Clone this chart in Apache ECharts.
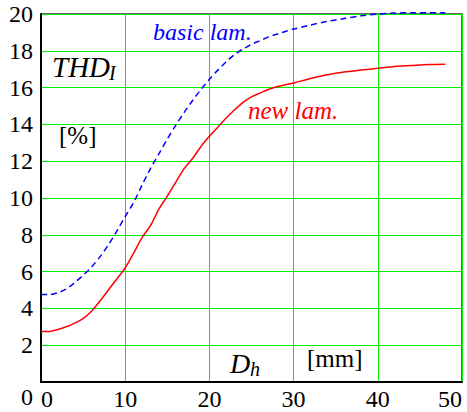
<!DOCTYPE html>
<html>
<head>
<meta charset="utf-8">
<script src="https://cdn.jsdelivr.net/npm/echarts@6/dist/echarts.min.js"></script>
<style>
  html, body { margin: 0; padding: 0; background: #fff; }
  #chart { width: 467px; height: 412px; }
</style>
</head>
<body>
<div id="chart"></div>
<script>
// Hole diameter D_h [mm]
const dh = [0, 1, 2, 3, 4, 5, 6, 7, 8, 9, 10, 11, 12, 13, 14, 15, 16, 17, 18, 19, 20,
  21, 22, 23, 24, 25, 26, 27, 28, 29, 30, 32, 34, 36, 38, 40, 42, 44, 46, 48];
// THD_I [%] for the basic lamination
const basicLam = [4.75, 4.75, 4.85, 5.05, 5.4, 5.8, 6.25, 6.8, 7.45, 8.2, 9.0,
  9.75, 10.7, 11.6, 12.4, 13.2, 13.95, 14.65, 15.3, 15.9, 16.45,
  16.95, 17.4, 17.8, 18.1, 18.35, 18.55, 18.75, 18.9, 19.05, 19.18,
  19.4, 19.6, 19.75, 19.9, 20.0, 20.05, 20.07, 20.07, 20.07];
// THD_I [%] for the new lamination
const newLam = [2.75, 2.75, 2.85, 3.0, 3.2, 3.45, 3.85, 4.4, 5.0, 5.6, 6.2,
  7.0, 7.85, 8.5, 9.4, 10.1, 10.85, 11.6, 12.15, 12.8, 13.35,
  13.85, 14.35, 14.8, 15.2, 15.5, 15.7, 15.9, 16.05, 16.15, 16.25,
  16.5, 16.7, 16.85, 16.95, 17.05, 17.15, 17.2, 17.25, 17.27];

const xTicks = [0, 10, 20, 30, 40, 50];
const yTicks = [0, 2, 4, 6, 8, 10, 12, 14, 16, 18, 20];

const pair = (xs, ys) => xs.map((x, i) => [x, ys[i]]);

const serif = 'Liberation Serif';
const gridGreen = '#00ee00';

const chart = echarts.init(document.getElementById('chart'), null, { renderer: 'svg' });

chart.setOption({
  animation: false,
  backgroundColor: '#fff',
  grid: {
    left: 41, right: 5, top: 14, bottom: 30,
    show: true, borderColor: '#333', borderWidth: 1.5
  },
  xAxis: {
    type: 'value',
    min: xTicks[0], max: xTicks[xTicks.length - 1], interval: 10,
    axisLine: { show: true, lineStyle: { color: '#000', width: 2 } },
    axisTick: { show: false },
    splitLine: { show: true, lineStyle: { color: gridGreen, width: 1 } },
    axisLabel: {
      margin: 5, fontFamily: serif, fontSize: 24, color: '#000',
      alignMinLabel: 'left', alignMaxLabel: 'right'
    }
  },
  yAxis: {
    type: 'value',
    min: yTicks[0], max: yTicks[yTicks.length - 1], interval: 2,
    axisLine: { show: true, lineStyle: { color: '#000', width: 2 } },
    axisTick: { show: false },
    splitLine: { show: true, lineStyle: { color: gridGreen, width: 1 } },
    axisLabel: {
      margin: 8, fontFamily: serif, fontSize: 24, color: '#000',
      padding: [3, 0, 0, 0],
      verticalAlignMinLabel: 'top'
    }
  },
  series: [
    {
      name: 'basic lam.', type: 'line', data: pair(dh, basicLam),
      showSymbol: false, smooth: 0.3, clip: false,
      lineStyle: { color: '#0000ff', width: 1.5, type: [6, 4] }
    },
    {
      name: 'new lam.', type: 'line', data: pair(dh, newLam),
      showSymbol: false, smooth: 0.3, clip: false,
      lineStyle: { color: '#ff0000', width: 1.5 }
    }
  ],
  graphic: [
    { type: 'text', left: 153, top: 20, z: 10,
      style: { text: 'basic lam.', fill: '#0000ff', fontFamily: serif, fontStyle: 'italic', fontSize: 24 } },
    { type: 'text', left: 248, top: 98, z: 10,
      style: { text: 'new lam.', fill: '#ff0000', fontFamily: serif, fontStyle: 'italic', fontSize: 25 } },
    { type: 'text', left: 52, top: 52, z: 10,
      style: { text: 'THD', fill: '#000', fontFamily: serif, fontStyle: 'italic', fontSize: 29 } },
    { type: 'text', left: 109, top: 63, z: 10,
      style: { text: 'I', fill: '#000', fontFamily: serif, fontStyle: 'italic', fontSize: 20 } },
    { type: 'text', left: 59, top: 123, z: 10,
      style: { text: '[%]', fill: '#000', fontFamily: serif, fontSize: 25 } },
    { type: 'text', left: 230, top: 349, z: 10,
      style: { text: 'D', fill: '#000', fontFamily: serif, fontStyle: 'italic', fontSize: 28 } },
    { type: 'text', left: 250, top: 359, z: 10,
      style: { text: 'h', fill: '#000', fontFamily: serif, fontStyle: 'italic', fontSize: 20 } },
    { type: 'text', left: 307, top: 346, z: 10,
      style: { text: '[mm]', fill: '#000', fontFamily: serif, fontSize: 25 } }
  ]
});
</script>
</body>
</html>
